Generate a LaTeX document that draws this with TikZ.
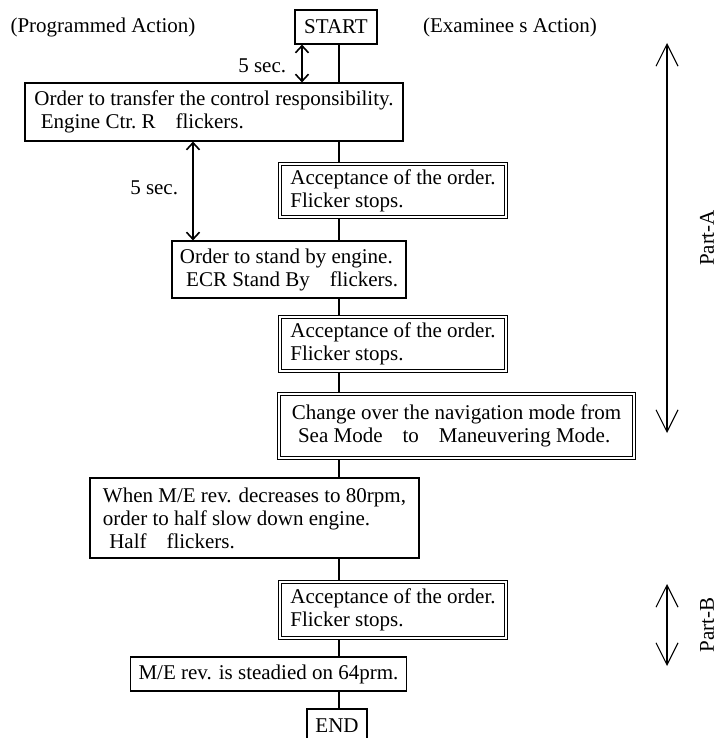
\documentclass[tikz,border=0pt]{standalone}
\usepackage{fontspec}
\setmainfont{Liberation Serif}
\usetikzlibrary{arrows.meta}

\tikzset{
	progbox/.style={draw, line width=1.2pt, align=left, inner xsep=8pt, inner ysep=3pt},
	exambox/.style={draw, double, line width=1pt, double distance=2pt, outer sep=2pt, align=left, inner xsep=9pt, inner ysep=3pt},
	termbox/.style={draw, line width=1.2pt, inner sep=4pt, minimum height=34},
	timer/.style={<->, >={Straight Barb[length=7pt,width=13pt]}, line width=1.6pt},
	partarrow/.style={<->, >={Straight Barb[length=22pt,width=22pt]}, line width=1.1pt},
}

\begin{document}
\begin{tikzpicture}[
	line width=1.2pt,
	x=1pt,y=-1pt,
	font=\fontsize{21}{23}\selectfont
	]
\useasboundingbox (0,0) rectangle (718,738);
\clip (0,0) rectangle (718,738);

% headings
			\node (head_prog)   at (103, 27) {(Programmed Action)};
			\node (head_exam)   at (510, 27) {(Examinee s Action)};

% flow boxes
			\node[termbox, minimum width=82] (start)   at (336, 27) {START};
			\node[progbox, minimum width=378, minimum height=58] (order_1)   at (214, 112)
				{Order to transfer the control responsibility.\\\hspace*{0.3em}Engine Ctr.~R\hspace{0.7em} flickers.};
			\node[exambox, minimum width=226, minimum height=53] (accept_1)   at (393, 190.5)
				{Acceptance of the order.\\Flicker stops.};
			\node[progbox, minimum width=228, minimum height=57] (order_2)   at (289, 269.5)
				{Order to stand by engine.\\\hspace*{0.3em}ECR Stand By\hspace{0.7em} flickers.};
			\node[exambox, minimum width=226, minimum height=54] (accept_2)   at (393, 344)
				{Acceptance of the order.\\Flicker stops.};
			\node[exambox, minimum width=355, minimum height=64] (change_mode)   at (456.5, 426)
				{Change over the navigation mode from\\\hspace*{0.3em}Sea Mode\hspace{0.7em} to\hspace{0.7em} Maneuvering Mode.};
			\node[progbox, minimum width=329, minimum height=80] (order_3)   at (254.5, 518)
				{When M/E rev. decreases to 80rpm,\\order to half slow down engine.\\\hspace*{0.3em}Half\hspace{0.7em} flickers.};
			\node[exambox, minimum width=226, minimum height=56] (accept_3)   at (393, 610)
				{Acceptance of the order.\\Flicker stops.};
			\node[progbox, minimum width=273, minimum height=34] (steady)   at (268.5, 674)
				{M/E rev. is steadied on 64prm.};
			\node[termbox, minimum width=60, minimum height=34] (end)   at (337, 726) {END};

% main line
			\coordinate (trunk)   at (339, 0);
\foreach \a/\b in {start/order_1, order_1/accept_1, accept_1/order_2, order_2/accept_2, accept_2/change_mode, change_mode/order_3, order_3/accept_3, accept_3/steady, steady/end}
			\draw (\a.south -| trunk) -- (\b.north -| trunk);

% time marks
			\coordinate (tick_1)   at (302, 0);
			\coordinate (tick_2)   at (193, 0);
			\draw[timer] (start.south -| tick_1) -- (order_1.north -| tick_1);
			\draw[timer] (order_1.south -| tick_2) -- (order_2.north -| tick_2);
			\node[anchor=east] (sec_1)   at (290, 66) {5 sec.};
			\node[anchor=east] (sec_2)   at (182, 188) {5 sec.};

% parts
			\coordinate (part_a_top)   at (667, 43);
			\coordinate (part_a_bot)   at (667, 433);
			\coordinate (part_b_top)   at (667, 584);
			\coordinate (part_b_bot)   at (667, 666);
			\draw[partarrow] (part_a_top) -- (part_a_bot);
			\draw[partarrow] (part_b_top) -- (part_b_bot);
			\node[rotate=90] (part_a)   at (707, 238) {Part-A};
			\node[rotate=90] (part_b)   at (707, 625) {Part-B};

\end{tikzpicture}
\end{document}
